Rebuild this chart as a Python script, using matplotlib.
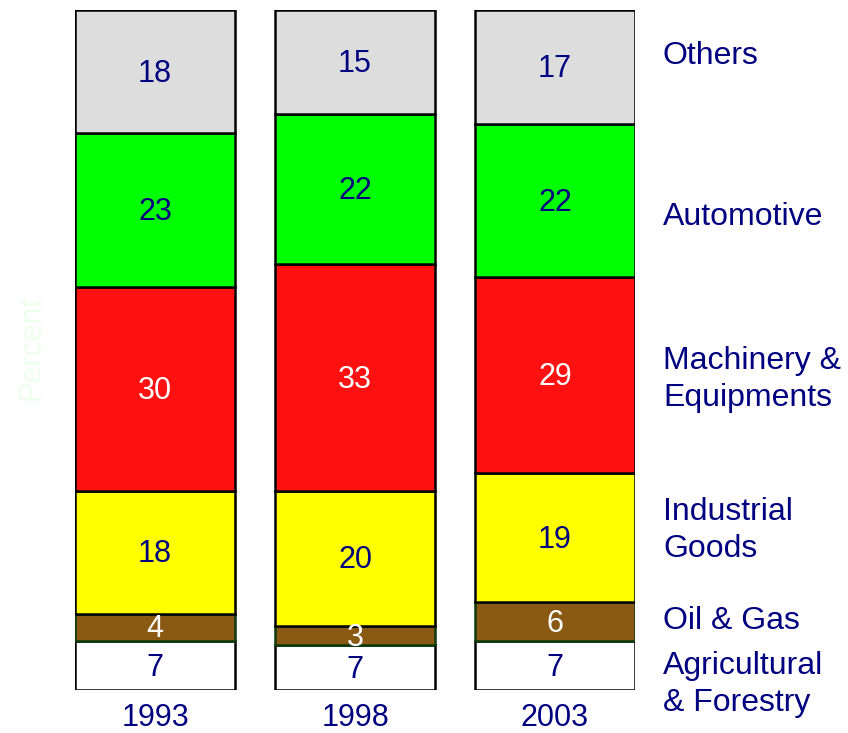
import numpy as np
import matplotlib
matplotlib.use('Agg')
import matplotlib.pyplot as plt

plt.rcParams['font.family'] = ['Liberation Sans', 'DejaVu Sans']

years = ['1993', '1998', '2003']
categories = ['Agricultural\n& Forestry', 'Oil & Gas', 'Industrial\nGoods',
              'Machinery &\nEquipments', 'Automotive', 'Others']
# shares in percent (labels show rounded values)
agri = [7.2, 6.6, 7.2]
oil = [4.0, 2.8, 5.7]
industrial = [18.1, 19.9, 19.0]
machinery = [30.0, 33.3, 28.8]
automotive = [22.6, 22.1, 22.5]
others = [18.1, 15.3, 16.8]
series = [agri, oil, industrial, machinery, automotive, others]

colors = ['#FFFFFF', '#8A5A14', '#FFFF00', '#FF1111', '#00FF00', '#DDDDDD']
edges = ['black', '#0B3A0B', 'black', 'black', 'black', 'black']
text_colors = ['#000080', 'white', '#000080', 'white', '#000080', '#000080']
# y (data units) of the right-hand labels
label_y = [0.8, 10.1, 23.4, 45.6, 69.6, 93.3]

navy = '#000080'
W, H = 848, 733
fig = plt.figure(figsize=(W / 100, H / 100), dpi=100)
ax = fig.add_axes([75 / W, (H - 690) / H, 560 / W, 680 / H])

x = np.arange(len(years))
bottom = np.zeros(len(years))
for vals, c, ec, tc in zip(series, colors, edges, text_colors):
    vals = np.array(vals, dtype=float)
    ax.bar(x, vals, width=0.8, bottom=bottom, color=c, edgecolor=ec, linewidth=1.8)
    for xi, b, v in zip(x, bottom, vals):
        ax.text(xi, b + v / 2 - 0.3, f'{v:.0f}', ha='center', va='center',
                color=tc, fontsize=22)
    bottom += vals

for name, yy in zip(categories, label_y):
    ax.text(2.54, yy, name, ha='left', va='center', color=navy,
            fontsize=23, clip_on=False, linespacing=1.3)

ax.set_xlim(-0.4, 2.4)
ax.set_ylim(0, 100)
ax.set_xticks(x)
ax.set_xticklabels(years, color=navy, fontsize=22)
ax.tick_params(axis='x', length=0, pad=9)
ax.set_yticks([])
for s in ax.spines.values():
    s.set_visible(False)

fig.text(32 / W, 1 - 348 / H, 'Percent', rotation=90, ha='center', va='center',
         color='#EEFFEE', fontsize=22)

fig.savefig('out.png', dpi=100)
